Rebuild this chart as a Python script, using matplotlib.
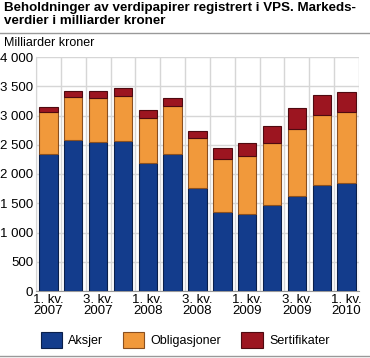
import numpy as np
import matplotlib
matplotlib.use("Agg")
import matplotlib.pyplot as plt
from matplotlib.patches import Rectangle
from matplotlib.lines import Line2D

plt.rcParams['font.family'] = ['Liberation Sans', 'DejaVu Sans']

# Kvartaler 1. kv. 2007 - 1. kv. 2010
quarters = ['1. kv.\n2007', '2. kv.\n2007', '3. kv.\n2007', '4. kv.\n2007',
            '1. kv.\n2008', '2. kv.\n2008', '3. kv.\n2008', '4. kv.\n2008',
            '1. kv.\n2009', '2. kv.\n2009', '3. kv.\n2009', '4. kv.\n2009',
            '1. kv.\n2010']
aksjer = [2335, 2580, 2540, 2557, 2182, 2335, 1761, 1347, 1324, 1477, 1625, 1813, 1847]
obligasjoner = [722, 738, 761, 784, 778, 824, 847, 903, 989, 1051, 1148, 1193, 1215]
sertifikater = [96, 102, 119, 131, 131, 136, 131, 187, 210, 290, 363, 346, 341]

series = ['Aksjer', 'Obligasjoner', 'Sertifikater']
colors = ['#133c8c', '#f1993b', '#9c1520']
edges = ['#0a1f4a', '#8a5020', '#4f0a10']

fig = plt.figure(figsize=(3.7, 3.58), dpi=100)
ax = fig.add_axes([36 / 370, 1 - 291 / 358, 323 / 370, 234 / 358])

x = np.arange(len(quarters))
bottom = np.zeros(len(quarters))
for vals, c, e in zip([aksjer, obligasjoner, sertifikater], colors, edges):
    ax.bar(x, vals, width=0.74, bottom=bottom, color=c, edgecolor=e, linewidth=0.8, zorder=3)
    bottom += np.array(vals)

ax.set_xlim(-0.5, len(quarters) - 0.5)
ax.set_ylim(0, 4000)
yt = np.arange(0, 4001, 500)
ax.set_yticks(yt)
ax.set_yticklabels([f'{v:,}'.replace(',', ' ') for v in yt], fontsize=9.5)
ax.set_xticks(x[::2])
ax.set_xticklabels(quarters[::2], fontsize=9.5, linespacing=0.95)
ax.set_xticks(np.arange(-0.5, len(quarters), 1), minor=True)
ax.tick_params(axis='both', length=0, pad=2)
ax.tick_params(axis='x', which='minor', length=0)
ax.grid(axis='y', color='#d6d6d6', linewidth=1, zorder=0)
ax.grid(axis='x', which='minor', color='#d6d6d6', linewidth=1, zorder=0)
ax.grid(axis='x', which='major', visible=False)
for s in ['top', 'right']:
    ax.spines[s].set_visible(False)
ax.spines['left'].set_color('#d6d6d6')
ax.spines['bottom'].set_color('#999999')

fig.text(4 / 370, 1 - 2 / 358, 'Beholdninger av verdipapirer registrert i VPS. Markeds-\nverdier i milliarder kroner',
         fontsize=9.6, fontweight='bold', va='top', ha='left', linespacing=1.1)
fig.add_artist(Line2D([0, 1], [1 - 33 / 358, 1 - 33 / 358], color='#999999', linewidth=1))
fig.text(4 / 370, 1 - 43 / 358, 'Milliarder kroner', fontsize=9, va='center', ha='left')
fig.add_artist(Line2D([0, 1], [1 - 356 / 358, 1 - 356 / 358], color='#999999', linewidth=1))

handles = [Rectangle((0, 0), 1, 1, facecolor=c, edgecolor=e, linewidth=0.8) for c, e in zip(colors, edges)]
fig.legend(handles, series, loc='center', bbox_to_anchor=(185 / 370, 1 - 340 / 358), ncol=3, frameon=False,
           fontsize=9, handlelength=1.7, handleheight=1.5, columnspacing=1.6, handletextpad=0.5)

fig.savefig('out.png', dpi=100)
